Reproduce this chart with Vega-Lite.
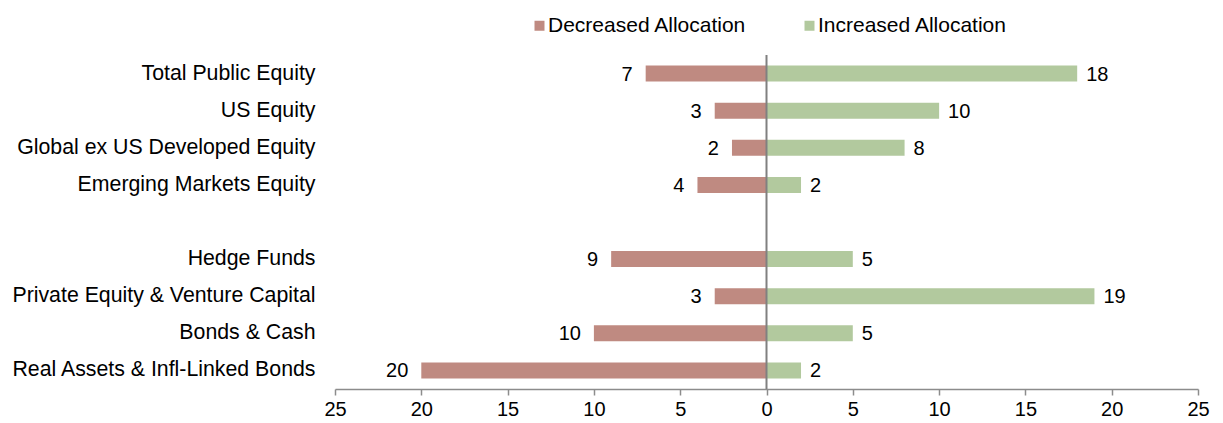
{
  "$schema": "https://vega.github.io/schema/vega-lite/v6.json",
  "width": 863,
  "height": 334,
  "autosize": {"type": "none"},
  "padding": {"left": 335, "top": 55, "right": 25, "bottom": 34},
  "background": "white",
  "config": {"font": "Liberation Sans", "view": {"stroke": null}},
  "data": {
    "values": [
      {"asset": "Total Public Equity", "side": "Decreased Allocation", "value": -7, "shown": 7},
      {"asset": "Total Public Equity", "side": "Increased Allocation", "value": 18, "shown": 18},
      {"asset": "US Equity", "side": "Decreased Allocation", "value": -3, "shown": 3},
      {"asset": "US Equity", "side": "Increased Allocation", "value": 10, "shown": 10},
      {"asset": "Global ex US Developed Equity", "side": "Decreased Allocation", "value": -2, "shown": 2},
      {"asset": "Global ex US Developed Equity", "side": "Increased Allocation", "value": 8, "shown": 8},
      {"asset": "Emerging Markets Equity", "side": "Decreased Allocation", "value": -4, "shown": 4},
      {"asset": "Emerging Markets Equity", "side": "Increased Allocation", "value": 2, "shown": 2},
      {"asset": "Hedge Funds", "side": "Decreased Allocation", "value": -9, "shown": 9},
      {"asset": "Hedge Funds", "side": "Increased Allocation", "value": 5, "shown": 5},
      {"asset": "Private Equity & Venture Capital", "side": "Decreased Allocation", "value": -3, "shown": 3},
      {"asset": "Private Equity & Venture Capital", "side": "Increased Allocation", "value": 19, "shown": 19},
      {"asset": "Bonds & Cash", "side": "Decreased Allocation", "value": -10, "shown": 10},
      {"asset": "Bonds & Cash", "side": "Increased Allocation", "value": 5, "shown": 5},
      {"asset": "Real Assets & Infl-Linked Bonds", "side": "Decreased Allocation", "value": -20, "shown": 20},
      {"asset": "Real Assets & Infl-Linked Bonds", "side": "Increased Allocation", "value": 2, "shown": 2}
    ]
  },
  "layer": [
    {
      "mark": {"type": "bar", "size": 16},
      "encoding": {
        "y": {
          "field": "asset",
          "type": "nominal",
          "title": null,
          "scale": {
            "domain": [
              "Total Public Equity",
              "US Equity",
              "Global ex US Developed Equity",
              "Emerging Markets Equity",
              " ",
              "Hedge Funds",
              "Private Equity & Venture Capital",
              "Bonds & Cash",
              "Real Assets & Infl-Linked Bonds"
            ]
          },
          "axis": {
            "domain": false,
            "ticks": false,
            "grid": false,
            "labelFontSize": 21.3,
            "labelColor": "black",
            "labelPadding": 20,
            "labelLimit": 400
          }
        },
        "x": {
          "field": "value",
          "type": "quantitative",
          "title": null,
          "scale": {"domain": [-25, 25], "nice": false, "zero": false},
          "axis": {
            "values": [-25, -20, -15, -10, -5, 0, 5, 10, 15, 20, 25],
            "labelExpr": "abs(datum.value)",
            "grid": false,
            "domainColor": "#8c8c8c",
            "domainWidth": 1.5,
            "tickColor": "#8c8c8c",
            "tickWidth": 1.5,
            "tickSize": 6,
            "labelFontSize": 20,
            "labelColor": "black",
            "labelPadding": 4,
            "labelFlush": false,
            "labelOverlap": false
          }
        },
        "color": {
          "field": "side",
          "type": "nominal",
          "title": null,
          "scale": {
            "domain": ["Decreased Allocation", "Increased Allocation"],
            "range": ["#bf8a81", "#b2c99e"]
          },
          "legend": {
            "orient": "none",
            "legendX": 194,
            "legendY": -40,
            "direction": "horizontal",
            "symbolType": "square",
            "symbolSize": 100,
            "symbolStrokeWidth": 0,
            "labelFontSize": 21,
            "labelColor": "black",
            "labelLimit": 400,
            "labelOffset": -2,
            "columnPadding": 52
          }
        }
      }
    },
    {
      "data": {"values": [{}]},
      "mark": {"type": "rule", "color": "#808080", "strokeWidth": 2},
      "encoding": {"x": {"datum": 0}}
    },
    {
      "transform": [{"filter": "datum.side === 'Decreased Allocation'"}],
      "mark": {"type": "text", "align": "right", "baseline": "middle", "dx": -13, "dy": 1, "fontSize": 20, "color": "black"},
      "encoding": {
        "y": {"field": "asset", "type": "nominal"},
        "x": {"field": "value", "type": "quantitative"},
        "text": {"field": "shown", "type": "quantitative"}
      }
    },
    {
      "transform": [{"filter": "datum.side === 'Increased Allocation'"}],
      "mark": {"type": "text", "align": "left", "baseline": "middle", "dx": 9, "dy": 1, "fontSize": 20, "color": "black"},
      "encoding": {
        "y": {"field": "asset", "type": "nominal"},
        "x": {"field": "value", "type": "quantitative"},
        "text": {"field": "shown", "type": "quantitative"}
      }
    }
  ]
}
